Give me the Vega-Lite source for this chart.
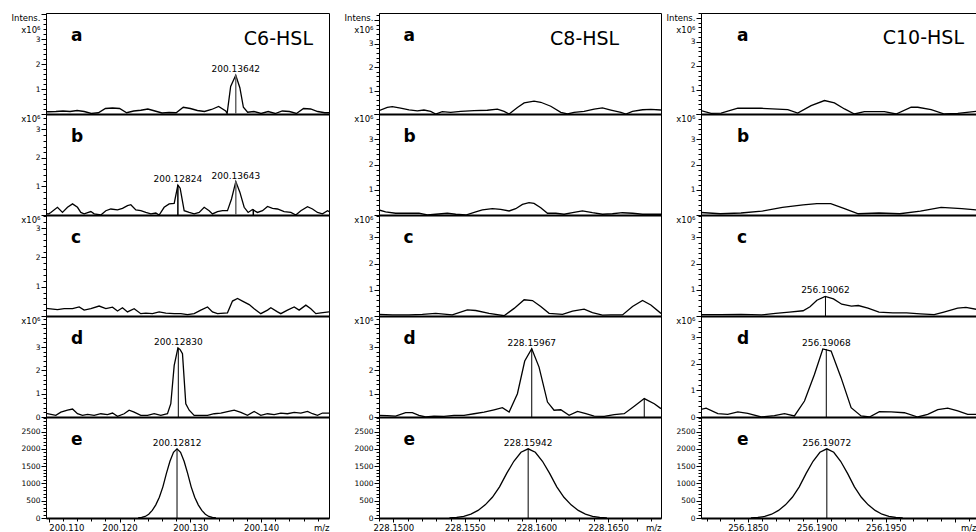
{
"$schema": "https://vega.github.io/schema/vega-lite/v6.json",
"background": "white",
"padding": {"left": 10, "top": 8, "right": 0, "bottom": 0},
"columns": 5,
"spacing": 0,
"bounds": "flush",
"config": {
  "view": {"stroke": "black", "strokeWidth": 1},
  "font": "DejaVu Sans",
  "axis": {"domainColor": "black", "tickColor": "black", "labelColor": "black", "titleColor": "black", "labelFont": "DejaVu Sans", "titleFont": "DejaVu Sans", "labelFontSize": 7.5, "labelPadding": 1, "grid": false, "labelOverlap": false, "tickWidth": 1, "domainWidth": 1},
  "axisX": {"labelFontSize": 8.5}
},
"datasets": {
"trace": [
{"c":1,"r":"a","mz":200.1096,"i":0.09},{"c":1,"r":"a","mz":200.110,"i":0.09},{"c":1,"r":"a","mz":200.111,"i":0.1},{"c":1,"r":"a","mz":200.112,"i":0.12},{"c":1,"r":"a","mz":200.113,"i":0.1},{"c":1,"r":"a","mz":200.114,"i":0.14},{"c":1,"r":"a","mz":200.115,"i":0.1},{"c":1,"r":"a","mz":200.116,"i":0.02},{"c":1,"r":"a","mz":200.117,"i":0.05},{"c":1,"r":"a","mz":200.118,"i":0.22},{"c":1,"r":"a","mz":200.119,"i":0.24},{"c":1,"r":"a","mz":200.120,"i":0.22},{"c":1,"r":"a","mz":200.121,"i":0.05},{"c":1,"r":"a","mz":200.122,"i":0.12},{"c":1,"r":"a","mz":200.123,"i":0.15},{"c":1,"r":"a","mz":200.124,"i":0.2},{"c":1,"r":"a","mz":200.125,"i":0.12},{"c":1,"r":"a","mz":200.126,"i":0.04},{"c":1,"r":"a","mz":200.127,"i":0.06},{"c":1,"r":"a","mz":200.128,"i":0.05},{"c":1,"r":"a","mz":200.129,"i":0.27},{"c":1,"r":"a","mz":200.130,"i":0.22},{"c":1,"r":"a","mz":200.131,"i":0.14},{"c":1,"r":"a","mz":200.132,"i":0.1},{"c":1,"r":"a","mz":200.133,"i":0.18},{"c":1,"r":"a","mz":200.134,"i":0.3},{"c":1,"r":"a","mz":200.135,"i":0.12},{"c":1,"r":"a","mz":200.1352,"i":0.02},{"c":1,"r":"a","mz":200.1357,"i":1.1},{"c":1,"r":"a","mz":200.13642,"i":1.55},{"c":1,"r":"a","mz":200.137,"i":1.05},{"c":1,"r":"a","mz":200.1375,"i":0.27},{"c":1,"r":"a","mz":200.1381,"i":0.07},{"c":1,"r":"a","mz":200.139,"i":0.1},{"c":1,"r":"a","mz":200.140,"i":0.02},{"c":1,"r":"a","mz":200.141,"i":0.1},{"c":1,"r":"a","mz":200.142,"i":0.02},{"c":1,"r":"a","mz":200.143,"i":0.12},{"c":1,"r":"a","mz":200.144,"i":0.1},{"c":1,"r":"a","mz":200.145,"i":0.02},{"c":1,"r":"a","mz":200.146,"i":0.22},{"c":1,"r":"a","mz":200.147,"i":0.2},{"c":1,"r":"a","mz":200.148,"i":0.1},{"c":1,"r":"a","mz":200.149,"i":0.05},{"c":1,"r":"a","mz":200.1496,"i":0.05},
{"c":1,"r":"b","mz":200.1096,"i":0.05},{"c":1,"r":"b","mz":200.11,"i":0.04},{"c":1,"r":"b","mz":200.11028,"i":0.09},{"c":1,"r":"b","mz":200.11122,"i":0.27},{"c":1,"r":"b","mz":200.11193,"i":0.09},{"c":1,"r":"b","mz":200.11264,"i":0.27},{"c":1,"r":"b","mz":200.11335,"i":0.39},{"c":1,"r":"b","mz":200.11405,"i":0.27},{"c":1,"r":"b","mz":200.11452,"i":0.09},{"c":1,"r":"b","mz":200.11499,"i":0.04},{"c":1,"r":"b","mz":200.11594,"i":0.12},{"c":1,"r":"b","mz":200.11641,"i":0.04},{"c":1,"r":"b","mz":200.11735,"i":0},{"c":1,"r":"b","mz":200.11806,"i":0.15},{"c":1,"r":"b","mz":200.11876,"i":0.21},{"c":1,"r":"b","mz":200.11971,"i":0.18},{"c":1,"r":"b","mz":200.12041,"i":0.23},{"c":1,"r":"b","mz":200.12112,"i":0.33},{"c":1,"r":"b","mz":200.12159,"i":0.36},{"c":1,"r":"b","mz":200.1223,"i":0.18},{"c":1,"r":"b","mz":200.123,"i":0.15},{"c":1,"r":"b","mz":200.12371,"i":0.09},{"c":1,"r":"b","mz":200.12442,"i":0.04},{"c":1,"r":"b","mz":200.12512,"i":0.07},{"c":1,"r":"b","mz":200.12559,"i":0},{"c":1,"r":"b","mz":200.1263,"i":0.27},{"c":1,"r":"b","mz":200.12701,"i":0.39},{"c":1,"r":"b","mz":200.12772,"i":0.41},{"c":1,"r":"b","mz":200.12824,"i":1.05},{"c":1,"r":"b","mz":200.12856,"i":0.94},{"c":1,"r":"b","mz":200.12913,"i":0.15},{"c":1,"r":"b","mz":200.12984,"i":0.09},{"c":1,"r":"b","mz":200.13054,"i":0.04},{"c":1,"r":"b","mz":200.13125,"i":0.09},{"c":1,"r":"b","mz":200.13196,"i":0.27},{"c":1,"r":"b","mz":200.13266,"i":0.15},{"c":1,"r":"b","mz":200.13313,"i":0.04},{"c":1,"r":"b","mz":200.13384,"i":0.12},{"c":1,"r":"b","mz":200.13455,"i":0.15},{"c":1,"r":"b","mz":200.13525,"i":0.15},{"c":1,"r":"b","mz":200.13582,"i":0.56},{"c":1,"r":"b","mz":200.13643,"i":1.17},{"c":1,"r":"b","mz":200.137,"i":0.8},{"c":1,"r":"b","mz":200.13761,"i":0.27},{"c":1,"r":"b","mz":200.13817,"i":0.09},{"c":1,"r":"b","mz":200.13879,"i":0.19},{"c":1,"r":"b","mz":200.13949,"i":0.09},{"c":1,"r":"b","mz":200.1402,"i":0.15},{"c":1,"r":"b","mz":200.14091,"i":0.3},{"c":1,"r":"b","mz":200.14161,"i":0.23},{"c":1,"r":"b","mz":200.14232,"i":0.21},{"c":1,"r":"b","mz":200.14326,"i":0.12},{"c":1,"r":"b","mz":200.14421,"i":0.09},{"c":1,"r":"b","mz":200.14491,"i":0},{"c":1,"r":"b","mz":200.14562,"i":0.15},{"c":1,"r":"b","mz":200.14656,"i":0.29},{"c":1,"r":"b","mz":200.14727,"i":0.21},{"c":1,"r":"b","mz":200.14797,"i":0.09},{"c":1,"r":"b","mz":200.14868,"i":0.04},{"c":1,"r":"b","mz":200.14939,"i":0.15},{"c":1,"r":"b","mz":200.1496,"i":0.12},
{"c":1,"r":"c","mz":200.1096,"i":0.26},{"c":1,"r":"c","mz":200.11122,"i":0.22},{"c":1,"r":"c","mz":200.11217,"i":0.25},{"c":1,"r":"c","mz":200.11335,"i":0.25},{"c":1,"r":"c","mz":200.11429,"i":0.31},{"c":1,"r":"c","mz":200.11499,"i":0.2},{"c":1,"r":"c","mz":200.11594,"i":0.25},{"c":1,"r":"c","mz":200.11711,"i":0.34},{"c":1,"r":"c","mz":200.11806,"i":0.25},{"c":1,"r":"c","mz":200.119,"i":0.3},{"c":1,"r":"c","mz":200.11971,"i":0.17},{"c":1,"r":"c","mz":200.12041,"i":0.28},{"c":1,"r":"c","mz":200.12112,"i":0.14},{"c":1,"r":"c","mz":200.12206,"i":0.25},{"c":1,"r":"c","mz":200.123,"i":0.08},{"c":1,"r":"c","mz":200.12371,"i":0.1},{"c":1,"r":"c","mz":200.12465,"i":0.08},{"c":1,"r":"c","mz":200.12559,"i":0.14},{"c":1,"r":"c","mz":200.12654,"i":0.1},{"c":1,"r":"c","mz":200.12772,"i":0.08},{"c":1,"r":"c","mz":200.12866,"i":0.08},{"c":1,"r":"c","mz":200.1296,"i":0.05},{"c":1,"r":"c","mz":200.13054,"i":0.08},{"c":1,"r":"c","mz":200.13148,"i":0.2},{"c":1,"r":"c","mz":200.13243,"i":0.31},{"c":1,"r":"c","mz":200.13313,"i":0.14},{"c":1,"r":"c","mz":200.13384,"i":0.08},{"c":1,"r":"c","mz":200.13525,"i":0.11},{"c":1,"r":"c","mz":200.13596,"i":0.51},{"c":1,"r":"c","mz":200.13667,"i":0.6},{"c":1,"r":"c","mz":200.13737,"i":0.51},{"c":1,"r":"c","mz":200.13832,"i":0.39},{"c":1,"r":"c","mz":200.13902,"i":0.25},{"c":1,"r":"c","mz":200.13996,"i":0.08},{"c":1,"r":"c","mz":200.14091,"i":0.2},{"c":1,"r":"c","mz":200.14138,"i":0.28},{"c":1,"r":"c","mz":200.14232,"i":0.14},{"c":1,"r":"c","mz":200.14279,"i":0.08},{"c":1,"r":"c","mz":200.14373,"i":0.2},{"c":1,"r":"c","mz":200.14468,"i":0.31},{"c":1,"r":"c","mz":200.14538,"i":0.2},{"c":1,"r":"c","mz":200.14633,"i":0.37},{"c":1,"r":"c","mz":200.14703,"i":0.25},{"c":1,"r":"c","mz":200.14774,"i":0.08},{"c":1,"r":"c","mz":200.14845,"i":0.11},{"c":1,"r":"c","mz":200.1496,"i":0.14},
{"c":1,"r":"d","mz":200.1096,"i":0.16},{"c":1,"r":"d","mz":200.11099,"i":0.07},{"c":1,"r":"d","mz":200.1117,"i":0.21},{"c":1,"r":"d","mz":200.11264,"i":0.29},{"c":1,"r":"d","mz":200.11335,"i":0.34},{"c":1,"r":"d","mz":200.11405,"i":0.14},{"c":1,"r":"d","mz":200.11476,"i":0.07},{"c":1,"r":"d","mz":200.11547,"i":0.11},{"c":1,"r":"d","mz":200.11641,"i":0.07},{"c":1,"r":"d","mz":200.11735,"i":0.14},{"c":1,"r":"d","mz":200.11829,"i":0.1},{"c":1,"r":"d","mz":200.119,"i":0.17},{"c":1,"r":"d","mz":200.11971,"i":0.03},{"c":1,"r":"d","mz":200.12065,"i":0.14},{"c":1,"r":"d","mz":200.12135,"i":0.29},{"c":1,"r":"d","mz":200.12206,"i":0.21},{"c":1,"r":"d","mz":200.123,"i":0.07},{"c":1,"r":"d","mz":200.12395,"i":0.07},{"c":1,"r":"d","mz":200.12489,"i":0.14},{"c":1,"r":"d","mz":200.12583,"i":0.07},{"c":1,"r":"d","mz":200.12677,"i":0.14},{"c":1,"r":"d","mz":200.12724,"i":0.57},{"c":1,"r":"d","mz":200.12772,"i":2.21},{"c":1,"r":"d","mz":200.12825,"i":2.96},{"c":1,"r":"d","mz":200.12856,"i":2.89},{"c":1,"r":"d","mz":200.12889,"i":2.71},{"c":1,"r":"d","mz":200.12936,"i":0.57},{"c":1,"r":"d","mz":200.12984,"i":0.29},{"c":1,"r":"d","mz":200.13054,"i":0.07},{"c":1,"r":"d","mz":200.13148,"i":0.07},{"c":1,"r":"d","mz":200.13243,"i":0.07},{"c":1,"r":"d","mz":200.13337,"i":0.14},{"c":1,"r":"d","mz":200.13431,"i":0.17},{"c":1,"r":"d","mz":200.13525,"i":0.23},{"c":1,"r":"d","mz":200.1362,"i":0.29},{"c":1,"r":"d","mz":200.13714,"i":0.2},{"c":1,"r":"d","mz":200.13808,"i":0.07},{"c":1,"r":"d","mz":200.13902,"i":0.24},{"c":1,"r":"d","mz":200.13996,"i":0.07},{"c":1,"r":"d","mz":200.14091,"i":0.14},{"c":1,"r":"d","mz":200.14185,"i":0.1},{"c":1,"r":"d","mz":200.14279,"i":0.17},{"c":1,"r":"d","mz":200.14373,"i":0.14},{"c":1,"r":"d","mz":200.14468,"i":0.2},{"c":1,"r":"d","mz":200.14562,"i":0.17},{"c":1,"r":"d","mz":200.14656,"i":0.24},{"c":1,"r":"d","mz":200.14727,"i":0.14},{"c":1,"r":"d","mz":200.14797,"i":0.07},{"c":1,"r":"d","mz":200.14868,"i":0.17},{"c":1,"r":"d","mz":200.1496,"i":0.17},
{"c":1,"r":"e","mz":200.12262,"i":0},{"c":1,"r":"e","mz":200.12312,"i":15},{"c":1,"r":"e","mz":200.12362,"i":45},{"c":1,"r":"e","mz":200.12412,"i":110},{"c":1,"r":"e","mz":200.12462,"i":220},{"c":1,"r":"e","mz":200.12512,"i":380},{"c":1,"r":"e","mz":200.12562,"i":600},{"c":1,"r":"e","mz":200.12612,"i":900},{"c":1,"r":"e","mz":200.12662,"i":1290},{"c":1,"r":"e","mz":200.12712,"i":1640},{"c":1,"r":"e","mz":200.12762,"i":1900},{"c":1,"r":"e","mz":200.12812,"i":2000},{"c":1,"r":"e","mz":200.12862,"i":1900},{"c":1,"r":"e","mz":200.12912,"i":1640},{"c":1,"r":"e","mz":200.12962,"i":1290},{"c":1,"r":"e","mz":200.13012,"i":900},{"c":1,"r":"e","mz":200.13062,"i":600},{"c":1,"r":"e","mz":200.13112,"i":380},{"c":1,"r":"e","mz":200.13162,"i":220},{"c":1,"r":"e","mz":200.13212,"i":110},{"c":1,"r":"e","mz":200.13262,"i":45},{"c":1,"r":"e","mz":200.13312,"i":15},{"c":1,"r":"e","mz":200.13362,"i":0},
{"c":2,"r":"a","mz":228.149,"i":0.14},{"c":2,"r":"a","mz":228.14958,"i":0.28},{"c":2,"r":"a","mz":228.14993,"i":0.31},{"c":2,"r":"a","mz":228.15051,"i":0.25},{"c":2,"r":"a","mz":228.1511,"i":0.18},{"c":2,"r":"a","mz":228.15168,"i":0.13},{"c":2,"r":"a","mz":228.15214,"i":0.17},{"c":2,"r":"a","mz":228.15261,"i":0.11},{"c":2,"r":"a","mz":228.15296,"i":0},{"c":2,"r":"a","mz":228.15342,"i":0.1},{"c":2,"r":"a","mz":228.15401,"i":0.07},{"c":2,"r":"a","mz":228.15471,"i":0.11},{"c":2,"r":"a","mz":228.15564,"i":0.14},{"c":2,"r":"a","mz":228.15657,"i":0.16},{"c":2,"r":"a","mz":228.15727,"i":0.21},{"c":2,"r":"a","mz":228.15774,"i":0.11},{"c":2,"r":"a","mz":228.15809,"i":0},{"c":2,"r":"a","mz":228.15867,"i":0.28},{"c":2,"r":"a","mz":228.15914,"i":0.47},{"c":2,"r":"a","mz":228.15983,"i":0.55},{"c":2,"r":"a","mz":228.1603,"i":0.5},{"c":2,"r":"a","mz":228.161,"i":0.33},{"c":2,"r":"a","mz":228.1617,"i":0.07},{"c":2,"r":"a","mz":228.16217,"i":0},{"c":2,"r":"a","mz":228.16263,"i":0.07},{"c":2,"r":"a","mz":228.16333,"i":0.11},{"c":2,"r":"a","mz":228.16403,"i":0.21},{"c":2,"r":"a","mz":228.16461,"i":0.26},{"c":2,"r":"a","mz":228.1652,"i":0.17},{"c":2,"r":"a","mz":228.1659,"i":0.07},{"c":2,"r":"a","mz":228.16625,"i":0},{"c":2,"r":"a","mz":228.16671,"i":0.11},{"c":2,"r":"a","mz":228.16741,"i":0.18},{"c":2,"r":"a","mz":228.16799,"i":0.2},{"c":2,"r":"a","mz":228.1687,"i":0.17},
{"c":2,"r":"b","mz":228.149,"i":0.2},{"c":2,"r":"b","mz":228.14946,"i":0.12},{"c":2,"r":"b","mz":228.15016,"i":0.07},{"c":2,"r":"b","mz":228.15109,"i":0.07},{"c":2,"r":"b","mz":228.15179,"i":0.07},{"c":2,"r":"b","mz":228.15238,"i":0},{"c":2,"r":"b","mz":228.15296,"i":0.03},{"c":2,"r":"b","mz":228.15377,"i":0.07},{"c":2,"r":"b","mz":228.15436,"i":0.03},{"c":2,"r":"b","mz":228.15506,"i":0},{"c":2,"r":"b","mz":228.15576,"i":0.12},{"c":2,"r":"b","mz":228.15622,"i":0.2},{"c":2,"r":"b","mz":228.15692,"i":0.25},{"c":2,"r":"b","mz":228.1575,"i":0.22},{"c":2,"r":"b","mz":228.15809,"i":0.16},{"c":2,"r":"b","mz":228.15855,"i":0.25},{"c":2,"r":"b","mz":228.15902,"i":0.42},{"c":2,"r":"b","mz":228.15948,"i":0.49},{"c":2,"r":"b","mz":228.15983,"i":0.46},{"c":2,"r":"b","mz":228.1603,"i":0.29},{"c":2,"r":"b","mz":228.16077,"i":0.07},{"c":2,"r":"b","mz":228.16135,"i":0.07},{"c":2,"r":"b","mz":228.16193,"i":0.03},{"c":2,"r":"b","mz":228.16252,"i":0.09},{"c":2,"r":"b","mz":228.16321,"i":0.16},{"c":2,"r":"b","mz":228.16391,"i":0.09},{"c":2,"r":"b","mz":228.16461,"i":0.03},{"c":2,"r":"b","mz":228.16531,"i":0.05},{"c":2,"r":"b","mz":228.16601,"i":0.09},{"c":2,"r":"b","mz":228.16671,"i":0.07},{"c":2,"r":"b","mz":228.16741,"i":0.03},{"c":2,"r":"b","mz":228.16811,"i":0.03},{"c":2,"r":"b","mz":228.1687,"i":0.03},
{"c":2,"r":"c","mz":228.149,"i":0.06},{"c":2,"r":"c","mz":228.14993,"i":0.04},{"c":2,"r":"c","mz":228.15109,"i":0.04},{"c":2,"r":"c","mz":228.15203,"i":0.06},{"c":2,"r":"c","mz":228.15296,"i":0.1},{"c":2,"r":"c","mz":228.15412,"i":0.04},{"c":2,"r":"c","mz":228.15517,"i":0.23},{"c":2,"r":"c","mz":228.15576,"i":0.21},{"c":2,"r":"c","mz":228.15669,"i":0.1},{"c":2,"r":"c","mz":228.15774,"i":0.01},{"c":2,"r":"c","mz":228.15844,"i":0.29},{"c":2,"r":"c","mz":228.15914,"i":0.62},{"c":2,"r":"c","mz":228.15972,"i":0.59},{"c":2,"r":"c","mz":228.1603,"i":0.36},{"c":2,"r":"c","mz":228.16088,"i":0.1},{"c":2,"r":"c","mz":228.16182,"i":0.06},{"c":2,"r":"c","mz":228.16252,"i":0.19},{"c":2,"r":"c","mz":228.16333,"i":0.26},{"c":2,"r":"c","mz":228.16391,"i":0.13},{"c":2,"r":"c","mz":228.16461,"i":0.03},{"c":2,"r":"c","mz":228.1652,"i":0.04},{"c":2,"r":"c","mz":228.16601,"i":0.04},{"c":2,"r":"c","mz":228.16671,"i":0.36},{"c":2,"r":"c","mz":228.16741,"i":0.59},{"c":2,"r":"c","mz":228.16799,"i":0.42},{"c":2,"r":"c","mz":228.1687,"i":0.1},
{"c":2,"r":"d","mz":228.149,"i":0.07},{"c":2,"r":"d","mz":228.14958,"i":0.06},{"c":2,"r":"d","mz":228.15016,"i":0.04},{"c":2,"r":"d","mz":228.15086,"i":0.19},{"c":2,"r":"d","mz":228.15133,"i":0.19},{"c":2,"r":"d","mz":228.15179,"i":0.07},{"c":2,"r":"d","mz":228.15226,"i":0},{"c":2,"r":"d","mz":228.15284,"i":0.04},{"c":2,"r":"d","mz":228.15354,"i":0.03},{"c":2,"r":"d","mz":228.15424,"i":0.07},{"c":2,"r":"d","mz":228.15494,"i":0.07},{"c":2,"r":"d","mz":228.15564,"i":0.14},{"c":2,"r":"d","mz":228.15634,"i":0.21},{"c":2,"r":"d","mz":228.15704,"i":0.31},{"c":2,"r":"d","mz":228.15762,"i":0.4},{"c":2,"r":"d","mz":228.15809,"i":0.21},{"c":2,"r":"d","mz":228.15867,"i":1},{"c":2,"r":"d","mz":228.15918,"i":2.4},{"c":2,"r":"d","mz":228.15967,"i":2.93},{"c":2,"r":"d","mz":228.16018,"i":2.14},{"c":2,"r":"d","mz":228.16077,"i":0.64},{"c":2,"r":"d","mz":228.16123,"i":0.29},{"c":2,"r":"d","mz":228.1617,"i":0.31},{"c":2,"r":"d","mz":228.16228,"i":0.07},{"c":2,"r":"d","mz":228.16287,"i":0.24},{"c":2,"r":"d","mz":228.16345,"i":0.14},{"c":2,"r":"d","mz":228.16403,"i":0.04},{"c":2,"r":"d","mz":228.16473,"i":0.03},{"c":2,"r":"d","mz":228.16543,"i":0.1},{"c":2,"r":"d","mz":228.16613,"i":0.14},{"c":2,"r":"d","mz":228.16683,"i":0.46},{"c":2,"r":"d","mz":228.16753,"i":0.79},{"c":2,"r":"d","mz":228.16823,"i":0.57},{"c":2,"r":"d","mz":228.1687,"i":0.36},
{"c":2,"r":"e","mz":228.15392,"i":0},{"c":2,"r":"e","mz":228.15442,"i":15},{"c":2,"r":"e","mz":228.15492,"i":45},{"c":2,"r":"e","mz":228.15542,"i":110},{"c":2,"r":"e","mz":228.15592,"i":220},{"c":2,"r":"e","mz":228.15642,"i":380},{"c":2,"r":"e","mz":228.15692,"i":600},{"c":2,"r":"e","mz":228.15742,"i":900},{"c":2,"r":"e","mz":228.15792,"i":1290},{"c":2,"r":"e","mz":228.15842,"i":1640},{"c":2,"r":"e","mz":228.15892,"i":1900},{"c":2,"r":"e","mz":228.15942,"i":2000},{"c":2,"r":"e","mz":228.15992,"i":1900},{"c":2,"r":"e","mz":228.16042,"i":1640},{"c":2,"r":"e","mz":228.16092,"i":1290},{"c":2,"r":"e","mz":228.16142,"i":900},{"c":2,"r":"e","mz":228.16192,"i":600},{"c":2,"r":"e","mz":228.16242,"i":380},{"c":2,"r":"e","mz":228.16292,"i":220},{"c":2,"r":"e","mz":228.16342,"i":110},{"c":2,"r":"e","mz":228.16392,"i":45},{"c":2,"r":"e","mz":228.16442,"i":15},{"c":2,"r":"e","mz":228.16492,"i":0},
{"c":3,"r":"a","mz":256.1816,"i":0.14},{"c":3,"r":"a","mz":256.18233,"i":0.03},{"c":3,"r":"a","mz":256.18306,"i":0.04},{"c":3,"r":"a","mz":256.18427,"i":0.24},{"c":3,"r":"a","mz":256.18595,"i":0.24},{"c":3,"r":"a","mz":256.18789,"i":0.18},{"c":3,"r":"a","mz":256.18861,"i":0.04},{"c":3,"r":"a","mz":256.18958,"i":0.35},{"c":3,"r":"a","mz":256.19055,"i":0.56},{"c":3,"r":"a","mz":256.19127,"i":0.46},{"c":3,"r":"a","mz":256.192,"i":0.21},{"c":3,"r":"a","mz":256.19272,"i":0},{"c":3,"r":"a","mz":256.19344,"i":0.1},{"c":3,"r":"a","mz":256.19489,"i":0.1},{"c":3,"r":"a","mz":256.19574,"i":0},{"c":3,"r":"a","mz":256.19683,"i":0.28},{"c":3,"r":"a","mz":256.19731,"i":0.28},{"c":3,"r":"a","mz":256.19828,"i":0.18},{"c":3,"r":"a","mz":256.19924,"i":0},{"c":3,"r":"a","mz":256.20021,"i":0.03},{"c":3,"r":"a","mz":256.20154,"i":0.11},
{"c":3,"r":"b","mz":256.1816,"i":0.1},{"c":3,"r":"b","mz":256.183,"i":0.05},{"c":3,"r":"b","mz":256.1845,"i":0.08},{"c":3,"r":"b","mz":256.186,"i":0.15},{"c":3,"r":"b","mz":256.1875,"i":0.3},{"c":3,"r":"b","mz":256.189,"i":0.4},{"c":3,"r":"b","mz":256.19,"i":0.45},{"c":3,"r":"b","mz":256.191,"i":0.45},{"c":3,"r":"b","mz":256.192,"i":0.25},{"c":3,"r":"b","mz":256.193,"i":0.05},{"c":3,"r":"b","mz":256.1945,"i":0.08},{"c":3,"r":"b","mz":256.196,"i":0.05},{"c":3,"r":"b","mz":256.1975,"i":0.15},{"c":3,"r":"b","mz":256.199,"i":0.3},{"c":3,"r":"b","mz":256.2005,"i":0.25},{"c":3,"r":"b","mz":256.2016,"i":0.2},
{"c":3,"r":"c","mz":256.1816,"i":0.05},{"c":3,"r":"c","mz":256.183,"i":0.05},{"c":3,"r":"c","mz":256.1845,"i":0.06},{"c":3,"r":"c","mz":256.186,"i":0.04},{"c":3,"r":"c","mz":256.187,"i":0.1},{"c":3,"r":"c","mz":256.188,"i":0.15},{"c":3,"r":"c","mz":256.189,"i":0.2},{"c":3,"r":"c","mz":256.1895,"i":0.35},{"c":3,"r":"c","mz":256.19,"i":0.6},{"c":3,"r":"c","mz":256.1906,"i":0.75},{"c":3,"r":"c","mz":256.1912,"i":0.65},{"c":3,"r":"c","mz":256.1918,"i":0.45},{"c":3,"r":"c","mz":256.1925,"i":0.38},{"c":3,"r":"c","mz":256.193,"i":0.4},{"c":3,"r":"c","mz":256.1937,"i":0.3},{"c":3,"r":"c","mz":256.1945,"i":0.15},{"c":3,"r":"c","mz":256.1955,"i":0.12},{"c":3,"r":"c","mz":256.1965,"i":0.12},{"c":3,"r":"c","mz":256.1975,"i":0.08},{"c":3,"r":"c","mz":256.1985,"i":0.05},{"c":3,"r":"c","mz":256.1992,"i":0.15},{"c":3,"r":"c","mz":256.2002,"i":0.3},{"c":3,"r":"c","mz":256.2008,"i":0.33},{"c":3,"r":"c","mz":256.2016,"i":0.25},
{"c":3,"r":"d","mz":256.1816,"i":0.29},{"c":3,"r":"d","mz":256.18197,"i":0.33},{"c":3,"r":"d","mz":256.18282,"i":0.13},{"c":3,"r":"d","mz":256.18354,"i":0.1},{"c":3,"r":"d","mz":256.18427,"i":0.19},{"c":3,"r":"d","mz":256.18499,"i":0.14},{"c":3,"r":"d","mz":256.18596,"i":0},{"c":3,"r":"d","mz":256.18692,"i":0.05},{"c":3,"r":"d","mz":256.18765,"i":0.13},{"c":3,"r":"d","mz":256.18837,"i":0.04},{"c":3,"r":"d","mz":256.1891,"i":0.6},{"c":3,"r":"d","mz":256.18982,"i":1.6},{"c":3,"r":"d","mz":256.19043,"i":2.56},{"c":3,"r":"d","mz":256.19103,"i":2.48},{"c":3,"r":"d","mz":256.19175,"i":1.48},{"c":3,"r":"d","mz":256.19248,"i":0.35},{"c":3,"r":"d","mz":256.1932,"i":0.04},{"c":3,"r":"d","mz":256.19381,"i":0},{"c":3,"r":"d","mz":256.19453,"i":0.2},{"c":3,"r":"d","mz":256.19538,"i":0.19},{"c":3,"r":"d","mz":256.19634,"i":0.16},{"c":3,"r":"d","mz":256.19731,"i":0},{"c":3,"r":"d","mz":256.19803,"i":0.1},{"c":3,"r":"d","mz":256.19876,"i":0.28},{"c":3,"r":"d","mz":256.19948,"i":0.33},{"c":3,"r":"d","mz":256.20021,"i":0.23},{"c":3,"r":"d","mz":256.20093,"i":0.1},{"c":3,"r":"d","mz":256.20154,"i":0.1},
{"c":3,"r":"e","mz":256.18522,"i":0},{"c":3,"r":"e","mz":256.18572,"i":15},{"c":3,"r":"e","mz":256.18622,"i":45},{"c":3,"r":"e","mz":256.18672,"i":110},{"c":3,"r":"e","mz":256.18722,"i":220},{"c":3,"r":"e","mz":256.18772,"i":380},{"c":3,"r":"e","mz":256.18822,"i":600},{"c":3,"r":"e","mz":256.18872,"i":900},{"c":3,"r":"e","mz":256.18922,"i":1290},{"c":3,"r":"e","mz":256.18972,"i":1640},{"c":3,"r":"e","mz":256.19022,"i":1900},{"c":3,"r":"e","mz":256.19072,"i":2000},{"c":3,"r":"e","mz":256.19122,"i":1900},{"c":3,"r":"e","mz":256.19172,"i":1640},{"c":3,"r":"e","mz":256.19222,"i":1290},{"c":3,"r":"e","mz":256.19272,"i":900},{"c":3,"r":"e","mz":256.19322,"i":600},{"c":3,"r":"e","mz":256.19372,"i":380},{"c":3,"r":"e","mz":256.19422,"i":220},{"c":3,"r":"e","mz":256.19472,"i":110},{"c":3,"r":"e","mz":256.19522,"i":45},{"c":3,"r":"e","mz":256.19572,"i":15},{"c":3,"r":"e","mz":256.19622,"i":0}
],
"sticks": [
{"c":1,"r":"a","mz":200.13642,"i":1.55,"label":"200.13642","g":"lock"},
{"c":1,"r":"b","mz":200.12824,"i":1.05,"label":"200.12824","g":"peak"},
{"c":1,"r":"b","mz":200.13643,"i":1.17,"label":"200.13643","g":"lock"},
{"c":1,"r":"b","mz":200.1389,"i":0.2,"label":"","g":"peak"},
{"c":1,"r":"d","mz":200.1283,"i":2.96,"label":"200.12830","g":"peak"},
{"c":1,"r":"e","mz":200.12812,"i":2000,"label":"200.12812","g":"peak"},
{"c":2,"r":"d","mz":228.15967,"i":2.93,"label":"228.15967","g":"peak"},
{"c":2,"r":"d","mz":228.16753,"i":0.79,"label":"","g":"peak"},
{"c":2,"r":"e","mz":228.15942,"i":2000,"label":"228.15942","g":"peak"},
{"c":3,"r":"c","mz":256.19062,"i":0.75,"label":"256.19062","g":"peak"},
{"c":3,"r":"d","mz":256.19068,"i":2.56,"label":"256.19068","g":"peak"},
{"c":3,"r":"e","mz":256.19072,"i":2000,"label":"256.19072","g":"peak"}
]
},
"concat": [
{"width":283,"height":101,"layer":[
 {"data":{"name":"trace"},"transform":[{"filter":"datum.c === 1 && datum.r === 'a'"}],"mark":{"type":"line","color":"black","strokeWidth":1.3,"clip":true},"encoding":{"x":{"field":"mz","type":"quantitative","scale":{"domain":[200.1096,200.1496],"nice":false,"zero":false},"axis":{"labels":false,"ticks":false,"title":null,"domainWidth":2}},"y":{"field":"i","type":"quantitative","scale":{"domain":[0,4.04],"nice":false},"axis":{"tickCount":20,"labelExpr":"datum.value > 0.5 && datum.value < 3.5 && abs(datum.value - round(datum.value)) < 0.001 ? '' + round(datum.value) : ''","tickSize":{"condition":{"test":"abs(datum.value - round(datum.value)) < 0.001","value":5},"value":3},"title":["Intens.","x10⁶"],"titleAngle":0,"titleAlign":"right","titleBaseline":"alphabetic","titleX":-6,"titleY":7,"titleFontSize":8.5,"titleFontWeight":"normal","titleLineHeight":12}}}},
 {"data":{"name":"sticks"},"transform":[{"filter":"datum.c === 1 && datum.r === 'a'"}],"mark":{"type":"rule","strokeWidth":1.5},"encoding":{"x":{"field":"mz","type":"quantitative"},"y":{"field":"i","type":"quantitative"},"y2":{"datum":0},"color":{"field":"g","type":"nominal","scale":{"domain":["peak","lock"],"range":["black","#666666"]},"legend":null}}},
 {"data":{"name":"sticks"},"transform":[{"filter":"datum.c === 1 && datum.r === 'a' && datum.label !== ''"}],"mark":{"type":"text","font":"DejaVu Sans","fontSize":9,"dy":-3,"baseline":"alphabetic","color":"black"},"encoding":{"x":{"field":"mz","type":"quantitative"},"y":{"field":"i","type":"quantitative"},"text":{"field":"label"}}},
 {"data":{"values":[{}]},"mark":{"type":"text","align":"left","baseline":"alphabetic","font":"DejaVu Sans","fontWeight":"bold","fontSize":17,"color":"black"},"encoding":{"x":{"datum":200.11313,"type":"quantitative"},"y":{"datum":2.92,"type":"quantitative"},"text":{"value":"a"}}},
 {"data":{"values":[{}]},"mark":{"type":"text","align":"right","baseline":"alphabetic","font":"DejaVu Sans","fontSize":19,"color":"black"},"encoding":{"x":{"datum":200.14734,"type":"quantitative"},"y":{"datum":2.76,"type":"quantitative"},"text":{"value":"C6-HSL"}}}
]},
{"width":50,"height":101,"view":{"stroke":null},"data":{"values":[{}]},"mark":{"type":"text"},"encoding":{"text":{"value":""}}},
{"width":282,"height":101,"layer":[
 {"data":{"name":"trace"},"transform":[{"filter":"datum.c === 2 && datum.r === 'a'"}],"mark":{"type":"line","color":"black","strokeWidth":1.3,"clip":true},"encoding":{"x":{"field":"mz","type":"quantitative","scale":{"domain":[228.149,228.1687],"nice":false,"zero":false},"axis":{"labels":false,"ticks":false,"title":null,"domainWidth":2}},"y":{"field":"i","type":"quantitative","scale":{"domain":[0,4.3],"nice":false},"axis":{"tickCount":20,"labelExpr":"datum.value > 0.5 && datum.value < 3.5 && abs(datum.value - round(datum.value)) < 0.001 ? '' + round(datum.value) : ''","tickSize":{"condition":{"test":"abs(datum.value - round(datum.value)) < 0.001","value":5},"value":3},"title":["Intens.","x10⁶"],"titleAngle":0,"titleAlign":"right","titleBaseline":"alphabetic","titleX":-6,"titleY":7,"titleFontSize":8.5,"titleFontWeight":"normal","titleLineHeight":12}}}},
 {"data":{"values":[{}]},"mark":{"type":"text","align":"left","baseline":"alphabetic","font":"DejaVu Sans","fontWeight":"bold","fontSize":17,"color":"black"},"encoding":{"x":{"datum":228.15071,"type":"quantitative"},"y":{"datum":3.108,"type":"quantitative"},"text":{"value":"a"}}},
 {"data":{"values":[{}]},"mark":{"type":"text","align":"right","baseline":"alphabetic","font":"DejaVu Sans","fontSize":19,"color":"black"},"encoding":{"x":{"datum":228.16578,"type":"quantitative"},"y":{"datum":2.937,"type":"quantitative"},"text":{"value":"C8-HSL"}}}
]},
{"width":40,"height":101,"view":{"stroke":null},"data":{"values":[{}]},"mark":{"type":"text"},"encoding":{"text":{"value":""}}},
{"width":275,"height":101,"layer":[
 {"data":{"name":"trace"},"transform":[{"filter":"datum.c === 3 && datum.r === 'a'"}],"mark":{"type":"line","color":"black","strokeWidth":1.3,"clip":true},"encoding":{"x":{"field":"mz","type":"quantitative","scale":{"domain":[256.1816,256.20153],"nice":false,"zero":false},"axis":{"labels":false,"ticks":false,"title":null,"domainWidth":2}},"y":{"field":"i","type":"quantitative","scale":{"domain":[0,4.2],"nice":false},"axis":{"tickCount":20,"labelExpr":"datum.value > 0.5 && datum.value < 3.5 && abs(datum.value - round(datum.value)) < 0.001 ? '' + round(datum.value) : ''","tickSize":{"condition":{"test":"abs(datum.value - round(datum.value)) < 0.001","value":5},"value":3},"title":["Intens.","x10⁶"],"titleAngle":0,"titleAlign":"right","titleBaseline":"alphabetic","titleX":-6,"titleY":7,"titleFontSize":8.5,"titleFontWeight":"normal","titleLineHeight":12}}}},
 {"data":{"values":[{}]},"mark":{"type":"text","align":"left","baseline":"alphabetic","font":"DejaVu Sans","fontWeight":"bold","fontSize":17,"color":"black"},"encoding":{"x":{"datum":256.18421,"type":"quantitative"},"y":{"datum":3.036,"type":"quantitative"},"text":{"value":"a"}}},
 {"data":{"values":[{}]},"mark":{"type":"text","align":"right","baseline":"alphabetic","font":"DejaVu Sans","fontSize":19,"color":"black"},"encoding":{"x":{"datum":256.20066,"type":"quantitative"},"y":{"datum":2.91,"type":"quantitative"},"text":{"value":"C10-HSL"}}}
]},

{"width":283,"height":101,"layer":[
 {"data":{"name":"trace"},"transform":[{"filter":"datum.c === 1 && datum.r === 'b'"}],"mark":{"type":"line","color":"black","strokeWidth":1.3,"clip":true},"encoding":{"x":{"field":"mz","type":"quantitative","scale":{"domain":[200.1096,200.1496],"nice":false,"zero":false},"axis":{"labels":false,"ticks":false,"title":null,"domainWidth":2}},"y":{"field":"i","type":"quantitative","scale":{"domain":[0,3.54],"nice":false},"axis":{"tickCount":20,"labelExpr":"datum.value > 0.5 && datum.value < 3.5 && abs(datum.value - round(datum.value)) < 0.001 ? '' + round(datum.value) : ''","tickSize":{"condition":{"test":"abs(datum.value - round(datum.value)) < 0.001","value":5},"value":3},"title":"x10⁶","titleAngle":0,"titleAlign":"right","titleBaseline":"alphabetic","titleX":-6,"titleY":7,"titleFontSize":8.5,"titleFontWeight":"normal"}}}},
 {"data":{"name":"sticks"},"transform":[{"filter":"datum.c === 1 && datum.r === 'b'"}],"mark":{"type":"rule","strokeWidth":1.5},"encoding":{"x":{"field":"mz","type":"quantitative"},"y":{"field":"i","type":"quantitative"},"y2":{"datum":0},"color":{"field":"g","type":"nominal","scale":{"domain":["peak","lock"],"range":["black","#666666"]},"legend":null}}},
 {"data":{"name":"sticks"},"transform":[{"filter":"datum.c === 1 && datum.r === 'b' && datum.label !== ''"}],"mark":{"type":"text","font":"DejaVu Sans","fontSize":9,"dy":-3,"baseline":"alphabetic","color":"black"},"encoding":{"x":{"field":"mz","type":"quantitative"},"y":{"field":"i","type":"quantitative"},"text":{"field":"label"}}},
 {"data":{"values":[{}]},"mark":{"type":"text","align":"left","baseline":"alphabetic","font":"DejaVu Sans","fontWeight":"bold","fontSize":17,"color":"black"},"encoding":{"x":{"datum":200.11313,"type":"quantitative"},"y":{"datum":2.559,"type":"quantitative"},"text":{"value":"b"}}}
]},
{"width":50,"height":101,"view":{"stroke":null},"data":{"values":[{}]},"mark":{"type":"text"},"encoding":{"text":{"value":""}}},
{"width":282,"height":101,"layer":[
 {"data":{"name":"trace"},"transform":[{"filter":"datum.c === 2 && datum.r === 'b'"}],"mark":{"type":"line","color":"black","strokeWidth":1.3,"clip":true},"encoding":{"x":{"field":"mz","type":"quantitative","scale":{"domain":[228.149,228.1687],"nice":false,"zero":false},"axis":{"labels":false,"ticks":false,"title":null,"domainWidth":2}},"y":{"field":"i","type":"quantitative","scale":{"domain":[0,4.0],"nice":false},"axis":{"tickCount":20,"labelExpr":"datum.value > 0.5 && datum.value < 3.5 && abs(datum.value - round(datum.value)) < 0.001 ? '' + round(datum.value) : ''","tickSize":{"condition":{"test":"abs(datum.value - round(datum.value)) < 0.001","value":5},"value":3},"title":"x10⁶","titleAngle":0,"titleAlign":"right","titleBaseline":"alphabetic","titleX":-6,"titleY":7,"titleFontSize":8.5,"titleFontWeight":"normal"}}}},
 {"data":{"values":[{}]},"mark":{"type":"text","align":"left","baseline":"alphabetic","font":"DejaVu Sans","fontWeight":"bold","fontSize":17,"color":"black"},"encoding":{"x":{"datum":228.15071,"type":"quantitative"},"y":{"datum":2.891,"type":"quantitative"},"text":{"value":"b"}}}
]},
{"width":40,"height":101,"view":{"stroke":null},"data":{"values":[{}]},"mark":{"type":"text"},"encoding":{"text":{"value":""}}},
{"width":275,"height":101,"layer":[
 {"data":{"name":"trace"},"transform":[{"filter":"datum.c === 3 && datum.r === 'b'"}],"mark":{"type":"line","color":"black","strokeWidth":1.3,"clip":true},"encoding":{"x":{"field":"mz","type":"quantitative","scale":{"domain":[256.1816,256.20153],"nice":false,"zero":false},"axis":{"labels":false,"ticks":false,"title":null,"domainWidth":2}},"y":{"field":"i","type":"quantitative","scale":{"domain":[0,4.0],"nice":false},"axis":{"tickCount":20,"labelExpr":"datum.value > 0.5 && datum.value < 3.5 && abs(datum.value - round(datum.value)) < 0.001 ? '' + round(datum.value) : ''","tickSize":{"condition":{"test":"abs(datum.value - round(datum.value)) < 0.001","value":5},"value":3},"title":"x10⁶","titleAngle":0,"titleAlign":"right","titleBaseline":"alphabetic","titleX":-6,"titleY":7,"titleFontSize":8.5,"titleFontWeight":"normal"}}}},
 {"data":{"values":[{}]},"mark":{"type":"text","align":"left","baseline":"alphabetic","font":"DejaVu Sans","fontWeight":"bold","fontSize":17,"color":"black"},"encoding":{"x":{"datum":256.18421,"type":"quantitative"},"y":{"datum":2.891,"type":"quantitative"},"text":{"value":"b"}}}
]},

{"width":283,"height":101,"layer":[
 {"data":{"name":"trace"},"transform":[{"filter":"datum.c === 1 && datum.r === 'c'"}],"mark":{"type":"line","color":"black","strokeWidth":1.3,"clip":true},"encoding":{"x":{"field":"mz","type":"quantitative","scale":{"domain":[200.1096,200.1496],"nice":false,"zero":false},"axis":{"labels":false,"ticks":false,"title":null,"domainWidth":2}},"y":{"field":"i","type":"quantitative","scale":{"domain":[0,3.45],"nice":false},"axis":{"tickCount":20,"labelExpr":"datum.value > 0.5 && datum.value < 3.5 && abs(datum.value - round(datum.value)) < 0.001 ? '' + round(datum.value) : ''","tickSize":{"condition":{"test":"abs(datum.value - round(datum.value)) < 0.001","value":5},"value":3},"title":"x10⁶","titleAngle":0,"titleAlign":"right","titleBaseline":"alphabetic","titleX":-6,"titleY":7,"titleFontSize":8.5,"titleFontWeight":"normal"}}}},
 {"data":{"values":[{}]},"mark":{"type":"text","align":"left","baseline":"alphabetic","font":"DejaVu Sans","fontWeight":"bold","fontSize":17,"color":"black"},"encoding":{"x":{"datum":200.11313,"type":"quantitative"},"y":{"datum":2.494,"type":"quantitative"},"text":{"value":"c"}}}
]},
{"width":50,"height":101,"view":{"stroke":null},"data":{"values":[{}]},"mark":{"type":"text"},"encoding":{"text":{"value":""}}},
{"width":282,"height":101,"layer":[
 {"data":{"name":"trace"},"transform":[{"filter":"datum.c === 2 && datum.r === 'c'"}],"mark":{"type":"line","color":"black","strokeWidth":1.3,"clip":true},"encoding":{"x":{"field":"mz","type":"quantitative","scale":{"domain":[228.149,228.1687],"nice":false,"zero":false},"axis":{"labels":false,"ticks":false,"title":null,"domainWidth":2}},"y":{"field":"i","type":"quantitative","scale":{"domain":[0,3.85],"nice":false},"axis":{"tickCount":20,"labelExpr":"datum.value > 0.5 && datum.value < 3.5 && abs(datum.value - round(datum.value)) < 0.001 ? '' + round(datum.value) : ''","tickSize":{"condition":{"test":"abs(datum.value - round(datum.value)) < 0.001","value":5},"value":3},"title":"x10⁶","titleAngle":0,"titleAlign":"right","titleBaseline":"alphabetic","titleX":-6,"titleY":7,"titleFontSize":8.5,"titleFontWeight":"normal"}}}},
 {"data":{"values":[{}]},"mark":{"type":"text","align":"left","baseline":"alphabetic","font":"DejaVu Sans","fontWeight":"bold","fontSize":17,"color":"black"},"encoding":{"x":{"datum":228.15071,"type":"quantitative"},"y":{"datum":2.783,"type":"quantitative"},"text":{"value":"c"}}}
]},
{"width":40,"height":101,"view":{"stroke":null},"data":{"values":[{}]},"mark":{"type":"text"},"encoding":{"text":{"value":""}}},
{"width":275,"height":101,"layer":[
 {"data":{"name":"trace"},"transform":[{"filter":"datum.c === 3 && datum.r === 'c'"}],"mark":{"type":"line","color":"black","strokeWidth":1.3,"clip":true},"encoding":{"x":{"field":"mz","type":"quantitative","scale":{"domain":[256.1816,256.20153],"nice":false,"zero":false},"axis":{"labels":false,"ticks":false,"title":null,"domainWidth":2}},"y":{"field":"i","type":"quantitative","scale":{"domain":[0,3.85],"nice":false},"axis":{"tickCount":20,"labelExpr":"datum.value > 0.5 && datum.value < 3.5 && abs(datum.value - round(datum.value)) < 0.001 ? '' + round(datum.value) : ''","tickSize":{"condition":{"test":"abs(datum.value - round(datum.value)) < 0.001","value":5},"value":3},"title":"x10⁶","titleAngle":0,"titleAlign":"right","titleBaseline":"alphabetic","titleX":-6,"titleY":7,"titleFontSize":8.5,"titleFontWeight":"normal"}}}},
 {"data":{"name":"sticks"},"transform":[{"filter":"datum.c === 3 && datum.r === 'c'"}],"mark":{"type":"rule","color":"black","strokeWidth":1},"encoding":{"x":{"field":"mz","type":"quantitative"},"y":{"field":"i","type":"quantitative"},"y2":{"datum":0}}},
 {"data":{"name":"sticks"},"transform":[{"filter":"datum.c === 3 && datum.r === 'c' && datum.label !== ''"}],"mark":{"type":"text","font":"DejaVu Sans","fontSize":9,"dy":-3,"baseline":"alphabetic","color":"black"},"encoding":{"x":{"field":"mz","type":"quantitative"},"y":{"field":"i","type":"quantitative"},"text":{"field":"label"}}},
 {"data":{"values":[{}]},"mark":{"type":"text","align":"left","baseline":"alphabetic","font":"DejaVu Sans","fontWeight":"bold","fontSize":17,"color":"black"},"encoding":{"x":{"datum":256.18421,"type":"quantitative"},"y":{"datum":2.783,"type":"quantitative"},"text":{"value":"c"}}}
]},

{"width":283,"height":101,"layer":[
 {"data":{"name":"trace"},"transform":[{"filter":"datum.c === 1 && datum.r === 'd'"}],"mark":{"type":"line","color":"black","strokeWidth":1.3,"clip":true},"encoding":{"x":{"field":"mz","type":"quantitative","scale":{"domain":[200.1096,200.1496],"nice":false,"zero":false},"axis":{"labels":false,"ticks":false,"title":null,"domainWidth":2}},"y":{"field":"i","type":"quantitative","scale":{"domain":[0,4.33],"nice":false},"axis":{"tickCount":20,"labelExpr":"datum.value < 3.5 && abs(datum.value - round(datum.value)) < 0.001 ? '' + round(datum.value) : ''","tickSize":{"condition":{"test":"abs(datum.value - round(datum.value)) < 0.001","value":5},"value":3},"title":"x10⁶","titleAngle":0,"titleAlign":"right","titleBaseline":"alphabetic","titleX":-6,"titleY":7,"titleFontSize":8.5,"titleFontWeight":"normal"}}}},
 {"data":{"name":"sticks"},"transform":[{"filter":"datum.c === 1 && datum.r === 'd'"}],"mark":{"type":"rule","color":"black","strokeWidth":1},"encoding":{"x":{"field":"mz","type":"quantitative"},"y":{"field":"i","type":"quantitative"},"y2":{"datum":0}}},
 {"data":{"name":"sticks"},"transform":[{"filter":"datum.c === 1 && datum.r === 'd' && datum.label !== ''"}],"mark":{"type":"text","font":"DejaVu Sans","fontSize":9,"dy":-3,"baseline":"alphabetic","color":"black"},"encoding":{"x":{"field":"mz","type":"quantitative"},"y":{"field":"i","type":"quantitative"},"text":{"field":"label"}}},
 {"data":{"values":[{}]},"mark":{"type":"text","align":"left","baseline":"alphabetic","font":"DejaVu Sans","fontWeight":"bold","fontSize":17,"color":"black"},"encoding":{"x":{"datum":200.11313,"type":"quantitative"},"y":{"datum":3.13,"type":"quantitative"},"text":{"value":"d"}}}
]},
{"width":50,"height":101,"view":{"stroke":null},"data":{"values":[{}]},"mark":{"type":"text"},"encoding":{"text":{"value":""}}},
{"width":282,"height":101,"layer":[
 {"data":{"name":"trace"},"transform":[{"filter":"datum.c === 2 && datum.r === 'd'"}],"mark":{"type":"line","color":"black","strokeWidth":1.3,"clip":true},"encoding":{"x":{"field":"mz","type":"quantitative","scale":{"domain":[228.149,228.1687],"nice":false,"zero":false},"axis":{"labels":false,"ticks":false,"title":null,"domainWidth":2}},"y":{"field":"i","type":"quantitative","scale":{"domain":[0,4.33],"nice":false},"axis":{"tickCount":20,"labelExpr":"datum.value < 3.5 && abs(datum.value - round(datum.value)) < 0.001 ? '' + round(datum.value) : ''","tickSize":{"condition":{"test":"abs(datum.value - round(datum.value)) < 0.001","value":5},"value":3},"title":"x10⁶","titleAngle":0,"titleAlign":"right","titleBaseline":"alphabetic","titleX":-6,"titleY":7,"titleFontSize":8.5,"titleFontWeight":"normal"}}}},
 {"data":{"name":"sticks"},"transform":[{"filter":"datum.c === 2 && datum.r === 'd'"}],"mark":{"type":"rule","color":"black","strokeWidth":1},"encoding":{"x":{"field":"mz","type":"quantitative"},"y":{"field":"i","type":"quantitative"},"y2":{"datum":0}}},
 {"data":{"name":"sticks"},"transform":[{"filter":"datum.c === 2 && datum.r === 'd' && datum.label !== ''"}],"mark":{"type":"text","font":"DejaVu Sans","fontSize":9,"dy":-3,"baseline":"alphabetic","color":"black"},"encoding":{"x":{"field":"mz","type":"quantitative"},"y":{"field":"i","type":"quantitative"},"text":{"field":"label"}}},
 {"data":{"values":[{}]},"mark":{"type":"text","align":"left","baseline":"alphabetic","font":"DejaVu Sans","fontWeight":"bold","fontSize":17,"color":"black"},"encoding":{"x":{"datum":228.15071,"type":"quantitative"},"y":{"datum":3.13,"type":"quantitative"},"text":{"value":"d"}}}
]},
{"width":40,"height":101,"view":{"stroke":null},"data":{"values":[{}]},"mark":{"type":"text"},"encoding":{"text":{"value":""}}},
{"width":275,"height":101,"layer":[
 {"data":{"name":"trace"},"transform":[{"filter":"datum.c === 3 && datum.r === 'd'"}],"mark":{"type":"line","color":"black","strokeWidth":1.3,"clip":true},"encoding":{"x":{"field":"mz","type":"quantitative","scale":{"domain":[256.1816,256.20153],"nice":false,"zero":false},"axis":{"labels":false,"ticks":false,"title":null,"domainWidth":2}},"y":{"field":"i","type":"quantitative","scale":{"domain":[0,3.8],"nice":false},"axis":{"tickCount":20,"labelExpr":"datum.value < 3.5 && abs(datum.value - round(datum.value)) < 0.001 ? '' + round(datum.value) : ''","tickSize":{"condition":{"test":"abs(datum.value - round(datum.value)) < 0.001","value":5},"value":3},"title":"x10⁶","titleAngle":0,"titleAlign":"right","titleBaseline":"alphabetic","titleX":-6,"titleY":7,"titleFontSize":8.5,"titleFontWeight":"normal"}}}},
 {"data":{"name":"sticks"},"transform":[{"filter":"datum.c === 3 && datum.r === 'd'"}],"mark":{"type":"rule","color":"black","strokeWidth":1},"encoding":{"x":{"field":"mz","type":"quantitative"},"y":{"field":"i","type":"quantitative"},"y2":{"datum":0}}},
 {"data":{"name":"sticks"},"transform":[{"filter":"datum.c === 3 && datum.r === 'd' && datum.label !== ''"}],"mark":{"type":"text","font":"DejaVu Sans","fontSize":9,"dy":-3,"baseline":"alphabetic","color":"black"},"encoding":{"x":{"field":"mz","type":"quantitative"},"y":{"field":"i","type":"quantitative"},"text":{"field":"label"}}},
 {"data":{"values":[{}]},"mark":{"type":"text","align":"left","baseline":"alphabetic","font":"DejaVu Sans","fontWeight":"bold","fontSize":17,"color":"black"},"encoding":{"x":{"datum":256.18421,"type":"quantitative"},"y":{"datum":2.747,"type":"quantitative"},"text":{"value":"d"}}}
]},

{"width":283,"height":101,"layer":[
 {"data":{"name":"trace"},"transform":[{"filter":"datum.c === 1 && datum.r === 'e'"}],"mark":{"type":"line","color":"black","strokeWidth":1.3,"clip":true},"encoding":{"x":{"field":"mz","type":"quantitative","scale":{"domain":[200.1096,200.1496],"nice":false,"zero":false},"axis":{"tickCount":20,"labelExpr":"abs(datum.value * 100 - round(datum.value * 100)) < 0.001 ? format(datum.value, '.3f') : ''","tickSize":{"condition":{"test":"abs(datum.value * 100 - round(datum.value * 100)) < 0.001","value":4},"value":3},"labelFlush":5,"labelPadding":1,"title":"m/z","titleX":283,"titleY":5,"titleAlign":"right","titleBaseline":"top","titleAngle":0,"titleFontSize":8.5,"titleFontWeight":"normal","domainWidth":2}},"y":{"field":"i","type":"quantitative","scale":{"domain":[0,2920],"nice":false},"axis":{"tickCount":29,"labelExpr":"datum.value % 500 === 0 ? '' + datum.value : ''","tickSize":{"condition":{"test":"datum.value % 500 === 0","value":5},"value":3},"title":null}}}},
 {"data":{"name":"sticks"},"transform":[{"filter":"datum.c === 1 && datum.r === 'e'"}],"mark":{"type":"rule","color":"black","strokeWidth":1},"encoding":{"x":{"field":"mz","type":"quantitative"},"y":{"field":"i","type":"quantitative"},"y2":{"datum":0}}},
 {"data":{"name":"sticks"},"transform":[{"filter":"datum.c === 1 && datum.r === 'e' && datum.label !== ''"}],"mark":{"type":"text","font":"DejaVu Sans","fontSize":9,"dy":-3,"baseline":"alphabetic","color":"black"},"encoding":{"x":{"field":"mz","type":"quantitative"},"y":{"field":"i","type":"quantitative"},"text":{"field":"label"}}},
 {"data":{"values":[{}]},"mark":{"type":"text","align":"left","baseline":"alphabetic","font":"DejaVu Sans","fontWeight":"bold","fontSize":17,"color":"black"},"encoding":{"x":{"datum":200.11313,"type":"quantitative"},"y":{"datum":2111,"type":"quantitative"},"text":{"value":"e"}}}
]},
{"width":50,"height":101,"view":{"stroke":null},"data":{"values":[{}]},"mark":{"type":"text"},"encoding":{"text":{"value":""}}},
{"width":282,"height":101,"layer":[
 {"data":{"name":"trace"},"transform":[{"filter":"datum.c === 2 && datum.r === 'e'"}],"mark":{"type":"line","color":"black","strokeWidth":1.3,"clip":true},"encoding":{"x":{"field":"mz","type":"quantitative","scale":{"domain":[228.149,228.1687],"nice":false,"zero":false},"axis":{"tickCount":20,"labelExpr":"abs(datum.value * 200 - round(datum.value * 200)) < 0.001 ? format(datum.value, '.4f') : ''","tickSize":{"condition":{"test":"abs(datum.value * 200 - round(datum.value * 200)) < 0.001","value":4},"value":3},"labelFlush":false,"labelPadding":1,"title":"m/z","titleX":282,"titleY":5,"titleAlign":"right","titleBaseline":"top","titleAngle":0,"titleFontSize":8.5,"titleFontWeight":"normal","domainWidth":2}},"y":{"field":"i","type":"quantitative","scale":{"domain":[0,2920],"nice":false},"axis":{"tickCount":29,"labelExpr":"datum.value % 500 === 0 ? '' + datum.value : ''","tickSize":{"condition":{"test":"datum.value % 500 === 0","value":5},"value":3},"title":null}}}},
 {"data":{"name":"sticks"},"transform":[{"filter":"datum.c === 2 && datum.r === 'e'"}],"mark":{"type":"rule","color":"black","strokeWidth":1},"encoding":{"x":{"field":"mz","type":"quantitative"},"y":{"field":"i","type":"quantitative"},"y2":{"datum":0}}},
 {"data":{"name":"sticks"},"transform":[{"filter":"datum.c === 2 && datum.r === 'e' && datum.label !== ''"}],"mark":{"type":"text","font":"DejaVu Sans","fontSize":9,"dy":-3,"baseline":"alphabetic","color":"black"},"encoding":{"x":{"field":"mz","type":"quantitative"},"y":{"field":"i","type":"quantitative"},"text":{"field":"label"}}},
 {"data":{"values":[{}]},"mark":{"type":"text","align":"left","baseline":"alphabetic","font":"DejaVu Sans","fontWeight":"bold","fontSize":17,"color":"black"},"encoding":{"x":{"datum":228.15071,"type":"quantitative"},"y":{"datum":2111,"type":"quantitative"},"text":{"value":"e"}}}
]},
{"width":40,"height":101,"view":{"stroke":null},"data":{"values":[{}]},"mark":{"type":"text"},"encoding":{"text":{"value":""}}},
{"width":275,"height":101,"layer":[
 {"data":{"name":"trace"},"transform":[{"filter":"datum.c === 3 && datum.r === 'e'"}],"mark":{"type":"line","color":"black","strokeWidth":1.3,"clip":true},"encoding":{"x":{"field":"mz","type":"quantitative","scale":{"domain":[256.1816,256.20153],"nice":false,"zero":false},"axis":{"tickCount":20,"labelExpr":"datum.value < 256.199 && abs(datum.value * 200 - round(datum.value * 200)) < 0.001 ? format(datum.value, '.4f') : ''","tickSize":{"condition":{"test":"abs(datum.value * 200 - round(datum.value * 200)) < 0.001","value":4},"value":3},"labelFlush":false,"labelPadding":1,"title":"m/z","titleX":275,"titleY":5,"titleAlign":"right","titleBaseline":"top","titleAngle":0,"titleFontSize":8.5,"titleFontWeight":"normal","domainWidth":2}},"y":{"field":"i","type":"quantitative","scale":{"domain":[0,2920],"nice":false},"axis":{"tickCount":29,"labelExpr":"datum.value % 500 === 0 ? '' + datum.value : ''","tickSize":{"condition":{"test":"datum.value % 500 === 0","value":5},"value":3},"title":null}}}},
 {"data":{"name":"sticks"},"transform":[{"filter":"datum.c === 3 && datum.r === 'e'"}],"mark":{"type":"rule","color":"black","strokeWidth":1},"encoding":{"x":{"field":"mz","type":"quantitative"},"y":{"field":"i","type":"quantitative"},"y2":{"datum":0}}},
 {"data":{"name":"sticks"},"transform":[{"filter":"datum.c === 3 && datum.r === 'e' && datum.label !== ''"}],"mark":{"type":"text","font":"DejaVu Sans","fontSize":9,"dy":-3,"baseline":"alphabetic","color":"black"},"encoding":{"x":{"field":"mz","type":"quantitative"},"y":{"field":"i","type":"quantitative"},"text":{"field":"label"}}},
 {"data":{"values":[{}]},"mark":{"type":"text","align":"left","baseline":"alphabetic","font":"DejaVu Sans","fontWeight":"bold","fontSize":17,"color":"black"},"encoding":{"x":{"datum":256.18421,"type":"quantitative"},"y":{"datum":2111,"type":"quantitative"},"text":{"value":"e"}}}
]}
]
}
